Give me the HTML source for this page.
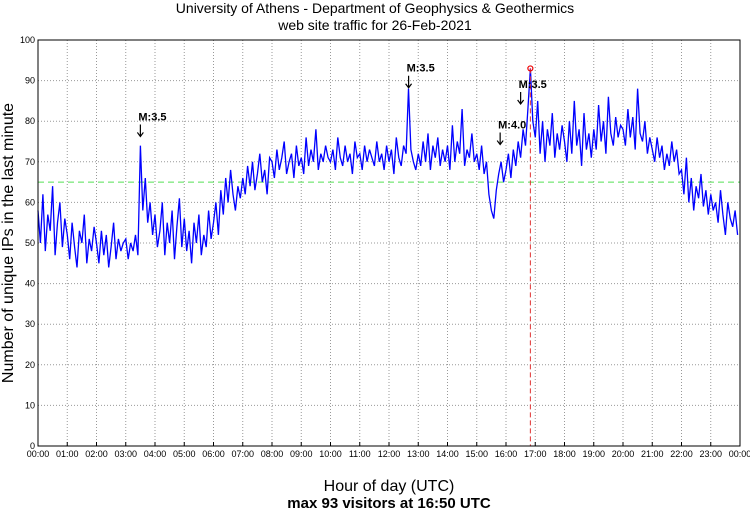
<!DOCTYPE html>
<html><head><meta charset="utf-8"><style>
body{margin:0;background:#fff;}
svg{display:block;font-family:"Liberation Sans",sans-serif;}
</style></head><body>
<svg id="chart" width="750" height="511" viewBox="0 0 750 511">
<text x="375" y="13" text-anchor="middle" font-size="14">University of Athens - Department of Geophysics &amp; Geothermics</text>
<text x="375" y="30" text-anchor="middle" font-size="14">web site traffic for 26-Feb-2021</text>
<text transform="translate(13,243) rotate(-90)" text-anchor="middle" font-size="16">Number of unique IPs in the last minute</text>
<text x="389" y="491" text-anchor="middle" font-size="16">Hour of day (UTC)</text>
<text x="389" y="508" text-anchor="middle" font-size="15" font-weight="bold">max 93 visitors at 16:50 UTC</text>
<g id="grid"></g><g id="plot"></g><g id="axes"></g>
</svg>
<script>
const yTicks=[0,10,20,30,40,50,60,70,80,90,100];
const xTickLabels=["00:00","01:00","02:00","03:00","04:00","05:00","06:00","07:00","08:00","09:00","10:00","11:00","12:00","13:00","14:00","15:00","16:00","17:00","18:00","19:00","20:00","21:00","22:00","23:00","00:00"];
const visitors=[
58,50,62,48,57,53,64,47,55,60,49,56,
52,46,55,49,44,53,50,57,45,51,48,54,
50,45,53,47,52,44,49,55,46,51,48,50,
51,46,50,48,52,47,74,58,66,55,60,52,
57,49,53,60,47,55,50,58,46,54,61,49,
56,48,53,45,55,50,57,47,52,49,58,51,
55,60,52,63,57,66,60,68,62,58,64,61,
66,62,69,64,70,63,67,72,65,68,62,71,
70,66,73,68,71,75,67,70,72,66,74,69,
71,67,76,69,73,70,78,68,72,70,74,71,
70,73,68,76,71,69,74,70,72,67,75,71,
72,68,74,70,73,71,69,75,70,72,68,74,
70,73,67,76,71,69,74,72,88,73,70,68,
72,69,75,70,77,68,74,71,76,69,73,70,
74,68,79,70,75,72,83,69,73,71,77,70,
72,68,74,67,70,62,58,56,63,67,70,65,
68,72,66,73,69,75,71,78,74,83,93,80,
76,85,72,80,70,78,74,82,71,77,73,79,
75,70,80,72,85,74,78,69,82,73,77,71,
78,73,84,75,80,72,86,77,74,81,76,79,
78,74,83,76,81,73,88,77,75,80,72,76,
73,70,76,71,74,68,72,69,75,70,73,67,
68,62,71,60,66,58,64,61,67,59,63,57,
62,58,60,55,63,57,52,60,56,54,58,52];
const quakeHours=[3.5,12.67,15.8,16.5];
const quakeLabels=["M:3.5","M:3.5","M:4.0","M:3.5"];
const quakeLevels=[76,88,74,84];
const avgLevel=65;
const maxHour=16.833, maxValue=93;

const NS="http://www.w3.org/2000/svg";
const X0=38,X1=740,Y0=446,Y1=40;
const xs=h=>X0+(X1-X0)*h/24;
const ys=v=>Y0-(Y0-Y1)*v/100;
function mk(parent,tag,attrs){const e=document.createElementNS(NS,tag);for(const k in attrs)e.setAttribute(k,attrs[k]);document.getElementById(parent).appendChild(e);return e;}

yTicks.forEach(v=>{
  if(v>0&&v<100){const g=mk('grid','line',{x1:X0,x2:X1,y1:ys(v),y2:ys(v),stroke:'#999','stroke-dasharray':'1,2','stroke-width':1});
  
  }
  const t=mk('axes','text',{x:X0-3,y:ys(v)+3,'text-anchor':'end','font-size':9});t.textContent=v;
  
  
});
xTickLabels.forEach((l,i)=>{
  if(i>0&&i<24){const g=mk('grid','line',{x1:xs(i),x2:xs(i),y1:Y1,y2:Y0,stroke:'#999','stroke-dasharray':'1,2','stroke-width':1});
  
  }
  const tk=mk('axes','line',{x1:xs(i),x2:xs(i),y1:Y0,y2:Y0-4,stroke:'#000'});
  
  
  const t=mk('axes','text',{x:xs(i),y:Y0+11,'text-anchor':'middle','font-size':9});t.textContent=l;
  
  
});
const avg=mk('plot','line',{x1:X0,x2:X1,y1:ys(avgLevel),y2:ys(avgLevel),stroke:'#55e055','stroke-dasharray':'6,4','stroke-width':1});


const pts=visitors.map((v,i)=>xs(i*24/visitors.length).toFixed(1)+','+ys(v).toFixed(1)).join(' ');
const line=mk('plot','polyline',{points:pts,fill:'none',stroke:'#0000ff','stroke-width':1.3});


const vl=mk('plot','line',{x1:xs(maxHour),x2:xs(maxHour),y1:ys(maxValue),y2:Y0,stroke:'#e03030','stroke-dasharray':'5,3','stroke-width':1});


const mc=mk('plot','circle',{cx:xs(maxHour),cy:ys(maxValue),r:2.5,fill:'none',stroke:'#e00','stroke-width':1.2});


quakeHours.forEach((h,i)=>{
  const x=xs(h),y=ys(quakeLevels[i]);
  const t=mk('plot','text',{x:x-2,y:y-17,'font-size':11,'font-weight':'bold'});t.textContent=quakeLabels[i];
  
  
  const a=mk('plot','path',{d:`M${x},${y-13} L${x},${y-1} M${x-3},${y-5} L${x},${y-1} L${x+3},${y-5}`,fill:'none',stroke:'#000','stroke-width':1.2});
  
  
});
const fr=mk('axes','rect',{x:X0,y:Y1,width:X1-X0,height:Y0-Y1,fill:'none',stroke:'#000','stroke-width':1});


</script>
</body></html>
